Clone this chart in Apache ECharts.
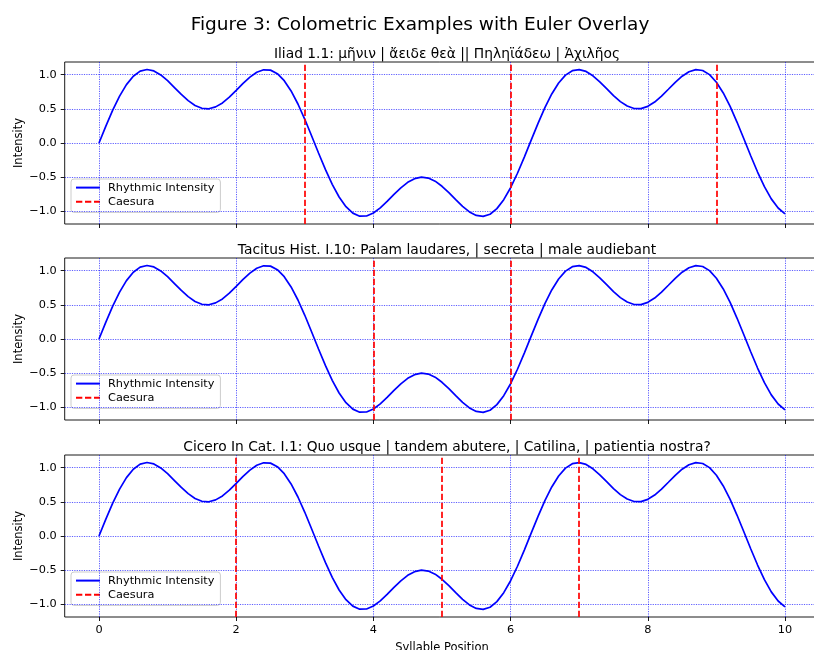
<!DOCTYPE html>
<html><head><meta charset="utf-8">
<script src="https://cdn.jsdelivr.net/npm/echarts@6/dist/echarts.min.js"></script>
<style>html,body{margin:0;padding:0;background:#fff}#c{width:814px;height:650px}</style>
</head><body><div id="c"></div>
<script>
const positions = [0,0.1,0.2,0.3,0.4,0.5,0.6,0.7,0.8,0.9,1,1.1,1.2,1.3,1.4,1.5,1.6,1.7,1.8,1.9,2,2.1,2.2,2.3,2.4,2.5,2.6,2.7,2.8,2.9,3,3.1,3.2,3.3,3.4,3.5,3.6,3.7,3.8,3.9,4,4.1,4.2,4.3,4.4,4.5,4.6,4.7,4.8,4.9,5,5.1,5.2,5.3,5.4,5.5,5.6,5.7,5.8,5.9,6,6.1,6.2,6.3,6.4,6.5,6.6,6.7,6.8,6.9,7,7.1,7.2,7.3,7.4,7.5,7.6,7.7,7.8,7.9,8,8.1,8.2,8.3,8.4,8.5,8.6,8.7,8.8,8.9,9,9.1,9.2,9.3,9.4,9.5,9.6,9.7,9.8,9.9,10];
const intensity = [0,0.248,0.481,0.687,0.855,0.978,1.052,1.076,1.055,0.997,0.912,0.812,0.711,0.620,0.550,0.509,0.501,0.529,0.587,0.671,0.770,0.872,0.964,1.035,1.072,1.067,1.015,0.912,0.762,0.571,0.347,0.103,-0.146,-0.387,-0.605,-0.791,-0.933,-1.027,-1.072,-1.069,-1.025,-0.950,-0.855,-0.752,-0.656,-0.576,-0.522,-0.500,-0.513,-0.559,-0.634,-0.727,-0.830,-0.928,-1.009,-1.061,-1.075,-1.043,-0.961,-0.830,-0.655,-0.443,-0.206,0.042,0.288,0.518,0.718,0.879,0.994,1.059,1.075,1.048,0.984,0.896,0.795,0.694,0.606,0.541,0.505,0.504,0.537,0.600,0.687,0.787,0.888,0.978,1.044,1.075,1.062,1.001,0.890,0.733,0.535,0.307,0.062,-0.187,-0.425,-0.639,-0.818,-0.952,-1.038];
const caesuraIliad = [3, 6, 9];
const caesuraTacitus = [4, 6];
const caesuraCicero = [2, 5, 7];
const panelTitles = [
  "Iliad 1.1: μῆνιν | ἄειδε θεὰ || Πηληϊάδεω | Ἀχιλῆος",
  "Tacitus Hist. I.10: Palam laudares, | secreta | male audiebant",
  "Cicero In Cat. I.1: Quo usque | tandem abutere, | Catilina, | patientia nostra?"
];
const suptitle = "Figure 3: Colometric Examples with Euler Overlay";
const xTicks = [0, 2, 4, 6, 8, 10];
const yTicks = [-1.0, -0.5, 0.0, 0.5, 1.0];
const seriesNames = ["Rhythmic Intensity", "Caesura"];
const caesuras = [caesuraIliad, caesuraTacitus, caesuraCicero];

const FONT = "DejaVu Sans";
const tops = [62, 258, 455];
const gridH = 162;
const titleTops = [42, 238, 435];
const fmtY = v => (v < 0 ? "\u2212" : "") + Math.abs(v).toFixed(1);

const grids = [], xAxes = [], yAxes = [], series = [], titles = [], legends = [];
titles.push({text: suptitle, left: 415, top: 11, textAlign: "center",
  textStyle: {fontFamily: FONT, fontSize: 18.5, fontWeight: "normal", color: "#000"}});
for (let i = 0; i < 3; i++) {
  grids.push({left: 64.7, width: 754.6, top: tops[i], height: gridH, show: true,
    containLabel: false, outerBoundsMode: "none",
    borderColor: "#000", borderWidth: 0.9, backgroundColor: "transparent"});
  titles.push({text: panelTitles[i], left: 442, top: titleTops[i], textAlign: "center",
    textStyle: {fontFamily: FONT, fontSize: 13.8, fontWeight: "normal", color: "#000"}});
  const last = i === 2;
  xAxes.push({type: "value", gridIndex: i, min: -0.5, max: 10.5,
    axisLine: {show: false, onZero: false},
    axisTick: {show: true, inside: false, length: 4, customValues: xTicks, lineStyle: {color: "#000", width: 0.9}},
    axisLabel: {show: last, customValues: xTicks, margin: 8, fontFamily: FONT, fontSize: 11.3, color: "#000"},
    splitLine: {show: false},
    name: last ? "Syllable Position" : "", nameLocation: "middle", nameGap: 25, nameMoveOverlap: false,
    nameTextStyle: {fontFamily: FONT, fontSize: 11.5, color: "#000"}});
  yAxes.push({type: "value", gridIndex: i, min: -1.186, max: 1.186,
    axisLine: {show: false, onZero: false},
    axisTick: {show: true, inside: false, length: 4, customValues: yTicks, lineStyle: {color: "#000", width: 0.9}},
    axisLabel: {show: true, customValues: yTicks, margin: 8, fontFamily: FONT, fontSize: 11.3, color: "#000", formatter: fmtY},
    splitLine: {show: false},
    name: "Intensity", nameLocation: "middle", nameGap: 40, nameMoveOverlap: false,
    nameTextStyle: {fontFamily: FONT, fontSize: 11.5, color: "#000"}});
  series.push({type: "line", name: "_grid" + i, xAxisIndex: i, yAxisIndex: i, data: [], z: 1, silent: true,
    markLine: {silent: true, symbol: "none", label: {show: false}, animation: false,
      lineStyle: {color: "#0000ff", width: 0.7, type: [1.2, 1.2], opacity: 0.9},
      emphasis: {disabled: true},
      data: xTicks.map(v => ({xAxis: v})).concat(yTicks.map(v => ({yAxis: v})))}});
  series.push({type: "line", name: seriesNames[0], xAxisIndex: i, yAxisIndex: i, z: 3,
    data: positions.map((x, k) => [x, intensity[k]]), showSymbol: false, symbol: "none",
    lineStyle: {color: "#0000ff", width: 1.7}, itemStyle: {color: "#0000ff"}, animation: false});
  series.push({type: "line", name: seriesNames[1], xAxisIndex: i, yAxisIndex: i, z: 4, data: [],
    symbol: "none", lineStyle: {color: "#ff0000", width: 1.7, type: [6.3, 2.7]}, itemStyle: {color: "#ff0000"},
    markLine: {silent: true, symbol: "none", label: {show: false}, animation: false,
      lineStyle: {color: "#ff0000", width: 1.7, type: [6.3, 2.7]},
      emphasis: {disabled: true},
      data: caesuras[i].map(v => ({xAxis: v}))}});
  legends.push({data: seriesNames.slice(), orient: "vertical", left: 71, top: tops[i] + 117,
    padding: [3, 6, 5, 4], itemWidth: 24, itemHeight: 14, itemGap: 3,
    borderColor: "#cccccc", borderWidth: 1, borderRadius: 3, backgroundColor: "rgba(255,255,255,0.8)",
    selectedMode: false, itemStyle: {opacity: 0, borderWidth: 0},
    textStyle: {fontFamily: FONT, fontSize: 11.3, color: "#000", padding: [0, 0, 0, 3]}});
}

const chart = echarts.init(document.getElementById("c"), null, {renderer: "canvas"});
chart.setOption({animation: false, backgroundColor: "#fff", title: titles, grid: grids,
  xAxis: xAxes, yAxis: yAxes, series: series, legend: legends});
</script></body></html>
